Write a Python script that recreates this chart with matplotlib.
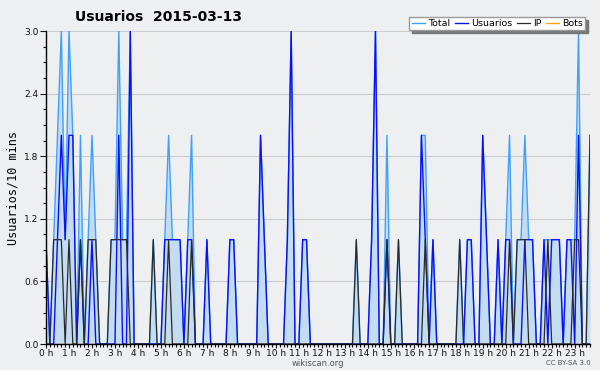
import numpy as np
import matplotlib.pyplot as plt
from matplotlib.ticker import MultipleLocator, FixedLocator

# one value every 10 minutes, 00:00 .. 23:40
usuarios = [1, 0, 0, 1, 2, 1, 2, 2, 0, 1, 0, 0, 1, 0, 0, 0, 0, 0, 0, 2, 0, 0, 3, 0,
            0, 0, 0, 0, 0, 0, 0, 1, 1, 1, 1, 1, 0, 1, 1, 0, 0, 0, 1, 0, 0, 0, 0, 0,
            1, 1, 0, 0, 0, 0, 0, 0, 2, 1, 0, 0, 0, 0, 0, 1, 3, 0, 0, 1, 1, 0, 0, 0,
            0, 0, 0, 0, 0, 0, 0, 0, 0, 0, 0, 0, 0, 1, 3, 0, 0, 1, 0, 0, 0, 0, 0, 0,
            0, 0, 2, 1, 0, 1, 0, 0, 0, 0, 0, 0, 0, 0, 1, 1, 0, 0, 2, 1, 0, 0, 1, 0,
            1, 1, 0, 0, 0, 1, 1, 1, 0, 0, 1, 0, 1, 1, 1, 0, 1, 1, 0, 2, 0, 0, 0]
ip = [0, 0, 1, 1, 1, 0, 1, 0, 0, 1, 0, 1, 1, 1, 0, 0, 0, 1, 1, 1, 1, 1, 0, 0,
      0, 0, 0, 0, 1, 0, 0, 0, 1, 0, 0, 0, 0, 0, 1, 0, 0, 0, 0, 0, 0, 0, 0, 0,
      0, 0, 0, 0, 0, 0, 0, 0, 0, 0, 0, 0, 0, 0, 0, 0, 0, 0, 0, 0, 0, 0, 0, 0,
      0, 0, 0, 0, 0, 0, 0, 0, 0, 1, 0, 0, 0, 0, 0, 0, 0, 1, 0, 0, 1, 0, 0, 0,
      0, 0, 0, 1, 0, 0, 0, 0, 0, 0, 0, 0, 1, 0, 0, 0, 0, 0, 0, 0, 0, 0, 0, 0,
      0, 1, 0, 1, 1, 1, 0, 0, 0, 0, 0, 1, 0, 0, 0, 0, 0, 0, 1, 1, 0, 0, 2]
bots = [0] * 143
total = [u + i + b for u, i, b in zip(usuarios, ip, bots)]
hour_labels = ['%d h' % h for h in range(24)]

x = np.arange(len(total))
bg = '#eeeff0'

fig = plt.figure(figsize=(6, 3.7), dpi=100, facecolor=bg)
ax = fig.add_axes([46/600, 1-344/370, 544/600, 313/370])
ax.set_facecolor(bg)

ax.fill_between(x, total, color='#c4dcf0', lw=0)
ax.plot(x, total, color='#3fa0ff', lw=1.0, label='Total')
ax.plot(x, usuarios, color='#0a10ff', lw=1.0, label='Usuarios')
ax.plot(x, ip, color='#2a2a2a', lw=0.9, label='IP')
ax.plot(x, bots, color='#ff9e1a', lw=1.0, label='Bots', zorder=1)

ax.set_xlim(0, len(total) - 1)
ax.set_ylim(0, 3.0)
ax.xaxis.set_major_locator(FixedLocator(range(0, 144, 6)))
ax.set_xticklabels(hour_labels)
ax.xaxis.set_minor_locator(MultipleLocator(1))
ax.yaxis.set_major_locator(MultipleLocator(0.6))
ax.yaxis.set_minor_locator(MultipleLocator(0.15))
ax.yaxis.set_major_formatter(plt.FormatStrFormatter('%.1f'))
ax.grid(axis='y', color='#cccccc', lw=0.8)
ax.set_axisbelow(True)
ax.tick_params(axis='x', which='major', length=3, width=0.8, labelsize=6.5, pad=0.5, colors='#111111')
ax.tick_params(axis='y', which='major', length=4, width=0.8, labelsize=6.5, pad=1.5, colors='#111111')
ax.tick_params(which='minor', length=2.5, width=0.8)
for s in ['top', 'right']:
    ax.spines[s].set_visible(False)
for s in ['left', 'bottom']:
    ax.spines[s].set_linewidth(1.0)
    ax.spines[s].set_zorder(5)
ax.set_ylabel('Usuarios/10 mins', fontsize=8.5, family='DejaVu Sans Mono', labelpad=3)

fig.text(75/600, 1-17/370, 'Usuarios  2015-03-13', fontsize=10, fontweight='bold',
         va='center', ha='left')
fig.text(318/600, 1-363/370, 'wikiscan.org', fontsize=6, color='#555555', ha='center', va='center')
fig.text(591/600, 1-363/370, 'CC BY-SA 3.0', fontsize=5, color='#555555', ha='right', va='center')

leg = fig.legend(loc='upper right', bbox_to_anchor=(590/600, 1-12/370), ncol=4, fontsize=6.8,
                 frameon=True, fancybox=False, handlelength=1.4, handletextpad=0.3,
                 columnspacing=0.5, borderpad=0.25, edgecolor='#999999',
                 shadow={'color': '#777777', 'alpha': 1})
leg.get_frame().set_facecolor('white')

fig.savefig('out.png', dpi=100, facecolor=bg)
